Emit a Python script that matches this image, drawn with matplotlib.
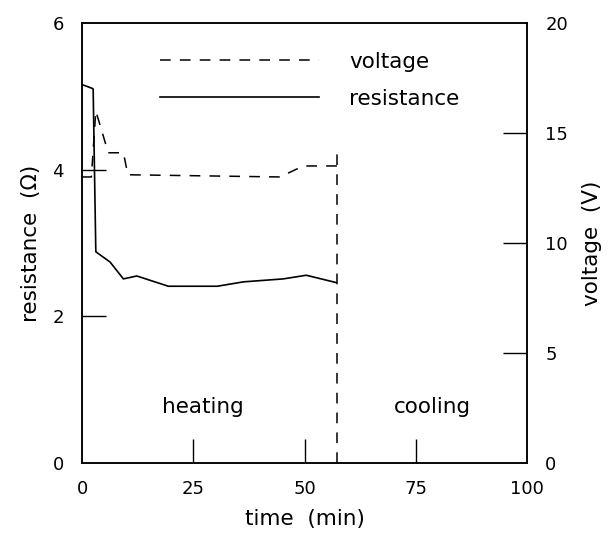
import matplotlib.pyplot as plt

# resistance (left axis)
t_res = [0, 2.2, 2.5, 3.1, 6.3, 9.3, 12.3, 19.4, 30.4, 36.3, 45.2, 50.4, 57.1]
res = [5.16, 5.11, 5.10, 2.88, 2.74, 2.51, 2.55, 2.41, 2.41, 2.47, 2.51, 2.56, 2.46]

# voltage (right axis)
t_volt = [0, 2.1, 2.2, 3.1, 5.9, 9.3, 10.3, 44.5, 49.7, 57.3]
volt = [13.0, 13.0, 13.3, 16.0, 14.1, 14.1, 13.1, 13.0, 13.5, 13.5]

# heating / cooling boundary
t_switch = 57.3
switch_top = 4.24

x_ticks = [0, 25, 50, 75, 100]
res_ticks = [0, 2, 4, 6]
volt_ticks = [0, 5, 10, 15, 20]

fig = plt.figure(figsize=(6.08, 5.36), dpi=100)
ax = fig.add_axes([0.1349, 0.1362, 0.732, 0.821])
ax2 = ax.twinx()

ln_r, = ax.plot(t_res, res, 'k-', linewidth=1.2, label='resistance')
ln_v, = ax2.plot(t_volt, volt, 'k--', linewidth=1.1, dashes=(7, 6), label='voltage')
ax.plot([t_switch, t_switch], [0, switch_top], 'k--', linewidth=1.1, dashes=(7, 6))

ax.set_xlim(0, 100)
ax.set_ylim(0, 6)
ax2.set_ylim(0, 20)
ax.set_xticks(x_ticks)
ax.set_yticks(res_ticks)
ax2.set_yticks(volt_ticks)

for a in (ax, ax2):
    a.tick_params(direction='in', length=17, width=1, labelsize=13, pad=13)
    for s in a.spines.values():
        s.set_linewidth(1.1)
ax.tick_params(axis='x', pad=12.5)

# no tick marks at the ends of the axes, only the labels
for axis in (ax.xaxis, ax.yaxis, ax2.yaxis):
    ticks = axis.get_major_ticks()
    for tk in (ticks[0], ticks[-1]):
        tk.tick1line.set_visible(False)
        tk.tick2line.set_visible(False)

ax.set_xlabel('time  (min)', fontsize=15.5, labelpad=8)
ax.set_ylabel('resistance  (\u03a9)', fontsize=15.5, labelpad=8)
ax2.set_ylabel('voltage  (V)', fontsize=15.5, labelpad=10)

ax.text(27.1, 0.76, 'heating', fontsize=15.5, ha='center', va='center')
ax.text(78.7, 0.76, 'cooling', fontsize=15.5, ha='center', va='center')

ax.legend([ln_v, ln_r], ['voltage', 'resistance'], loc='upper left',
          bbox_to_anchor=(0.175, 0.935), frameon=False, fontsize=15.5,
          handlelength=7.4, handletextpad=1.4, labelspacing=0.8,
          borderpad=0, borderaxespad=0)

fig.savefig('out.png', dpi=100)
